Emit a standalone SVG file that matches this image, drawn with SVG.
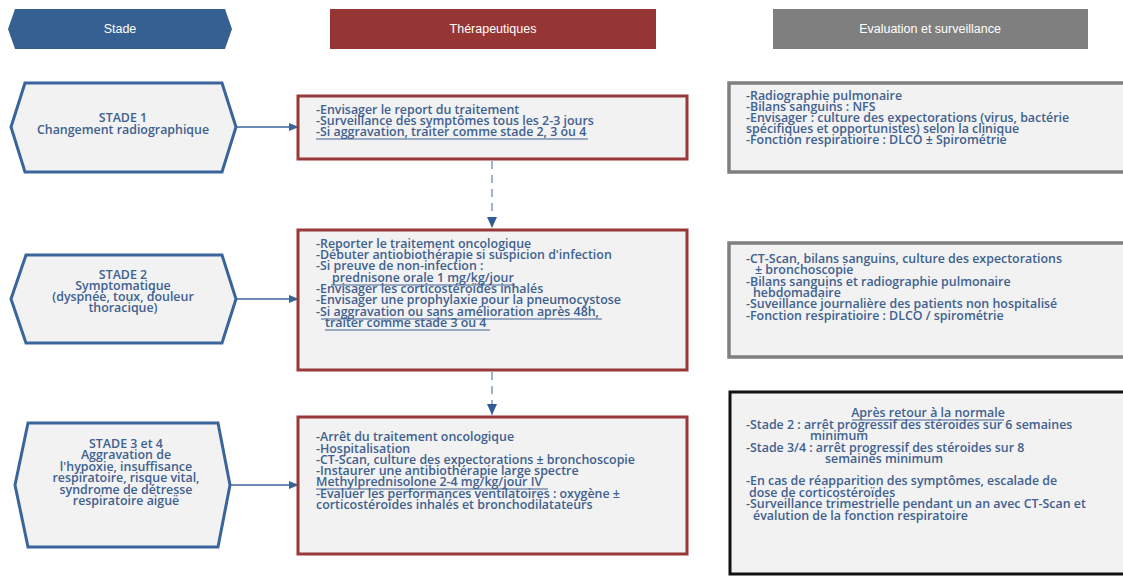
<svg xmlns="http://www.w3.org/2000/svg" width="1123" height="577" viewBox="0 0 1123 577">
<defs>
<style>
.t{font-family:"Open Sans","Liberation Sans",Arial,sans-serif;font-size:12.4px;font-weight:600;fill:#40618f;}
.s{font-size:12.4px;}
.c{text-anchor:middle;}
.h{font-family:"Liberation Sans",Arial,sans-serif;font-size:12.5px;fill:#ffffff;text-anchor:middle;}
.hex{fill:#f2f2f2;stroke:#3a659b;stroke-width:3;stroke-linejoin:miter;}
.ther{fill:#f2f2f2;stroke:#983838;stroke-width:3;}
.evg{fill:#f2f2f2;stroke:#7f7f7f;stroke-width:3.5;}
.evb{fill:#f2f2f2;stroke:#111111;stroke-width:3;}
.u{stroke:#40618f;stroke-width:1.2;}
.arr{stroke:#3a659b;stroke-width:1.5;fill:none;}
.dash{stroke:#9fb3d1;stroke-width:2;stroke-dasharray:8,6;fill:none;}
</style>
<marker id="ah" markerWidth="10" markerHeight="10" refX="9" refY="5" orient="auto" markerUnits="userSpaceOnUse">
<path d="M0,1 L10,5 L0,9 Z" fill="#3a659b"/>
</marker>
<marker id="ahd" markerWidth="12" markerHeight="12" refX="11" refY="6" orient="auto" markerUnits="userSpaceOnUse">
<path d="M0,1 L11,6 L0,11 Z" fill="#2f5c96"/>
</marker>
</defs>
<rect width="1123" height="577" fill="#ffffff"/>

<g id="header-stade">
<polygon points="8,29 15,9 225,9 232,29 225,49 15,49" fill="#376092"/>
<text class="h" x="120" y="33">Stade</text>
</g>
<g id="header-therapeutiques">
<rect x="330" y="9" width="326" height="40" fill="#963634"/>
<text class="h" x="493" y="33">Thérapeutiques</text>
</g>
<g id="header-evaluation">
<rect x="773" y="9" width="315" height="40" fill="#7f7f7f"/>
<text class="h" x="930" y="33">Evaluation et surveillance</text>
</g>

<g id="connectors">
<line class="arr" x1="236" y1="127" x2="298" y2="127" marker-end="url(#ah)"/>
<line class="arr" x1="236" y1="299" x2="298" y2="299" marker-end="url(#ah)"/>
<line class="arr" x1="230" y1="485" x2="298" y2="485" marker-end="url(#ah)"/>
<line class="dash" x1="492" y1="161" x2="492" y2="228" marker-end="url(#ahd)"/>
<line class="dash" x1="492" y1="372" x2="492" y2="415" marker-end="url(#ahd)"/>
</g>

<g id="stade1">
<polygon class="hex" points="11,127 25,83 222,83 236,127 222,172 25,172"/>
<text class="t s c"><tspan x="123" y="122">STADE 1</tspan><tspan x="123" y="134">Changement radiographique</tspan></text>
</g>

<g id="stade2">
<polygon class="hex" points="11,299 26,255 222,255 236,299 222,343 26,343"/>
<text class="t s c"><tspan x="123" y="279">STADE 2</tspan><tspan x="123" y="290">Symptomatique</tspan><tspan x="123" y="301">(dyspnée, toux, douleur</tspan><tspan x="123" y="312">thoracique)</tspan></text>
</g>

<g id="stade3">
<polygon class="hex" points="15,485 28,423 218,423 230,485 218,547 28,547"/>
<text class="t s c"><tspan x="126" y="448">STADE 3 et 4</tspan><tspan x="126" y="459">Aggravation de</tspan><tspan x="126" y="471">l'hypoxie, insuffisance</tspan><tspan x="126" y="482">respiratoire, risque vital,</tspan><tspan x="126" y="494">syndrome de détresse</tspan><tspan x="126" y="505">respiratoire aiguë</tspan></text>
</g>

<g id="therapeutique1">
<rect class="ther" x="298" y="96" width="389" height="63"/>
<text class="t"><tspan x="316" y="114">-Envisager le report du traitement</tspan><tspan x="316" y="125">-Surveillance des symptômes tous les 2-3 jours</tspan><tspan x="316" y="136">-Si aggravation, traiter comme stade 2, 3 ou 4</tspan></text>
<line class="u" x1="316" y1="139" x2="588" y2="139"/>
</g>

<g id="therapeutique2">
<rect class="ther" x="298" y="230" width="389" height="140"/>
<text class="t"><tspan x="316" y="248">-Reporter le traitement oncologique</tspan><tspan x="316" y="259">-Débuter antiobiothérapie si suspicion d'infection</tspan><tspan x="316" y="270">-Si preuve de non-infection :</tspan><tspan x="332" y="282">prednisone orale 1 mg/kg/jour</tspan><tspan x="316" y="293">-Envisager les corticostéroïdes inhalés</tspan><tspan x="316" y="304">-Envisager une prophylaxie pour la pneumocystose</tspan><tspan x="316" y="316">-Si aggravation ou sans amélioration après 48h,</tspan><tspan x="325" y="327">traiter comme stade 3 ou 4</tspan></text>
<line class="u" x1="331" y1="285" x2="515" y2="285"/>
<line class="u" x1="321" y1="319" x2="602" y2="319"/>
<line class="u" x1="325" y1="330" x2="490" y2="330"/>
</g>

<g id="therapeutique3">
<rect class="ther" x="298" y="417" width="389" height="137"/>
<text class="t"><tspan x="316" y="441">-Arrêt du traitement oncologique</tspan><tspan x="316" y="453">-Hospitalisation</tspan><tspan x="316" y="464">-CT-Scan, culture des expectorations ± bronchoscopie</tspan><tspan x="316" y="475">-Instaurer une antibiothérapie large spectre</tspan><tspan x="316" y="486">Methylprednisolone 2-4 mg/kg/jour IV</tspan><tspan x="316" y="498">-Evaluer les performances ventilatoires : oxygène ±</tspan><tspan x="316" y="509">corticostéroïdes inhalés et bronchodilatateurs</tspan></text>
<line class="u" x1="316" y1="489" x2="548" y2="489"/>
</g>

<g id="evaluation1">
<rect class="evg" x="729" y="83" width="400" height="89"/>
<text class="t"><tspan x="746" y="100">-Radiographie pulmonaire</tspan><tspan x="746" y="111">-Bilans sanguins : NFS</tspan><tspan x="746" y="122">-Envisager : culture des expectorations (virus, bactérie</tspan><tspan x="746" y="133">spécifiques et opportunistes) selon la clinique</tspan><tspan x="746" y="144">-Fonction respiratioire : DLCO ± Spirométrie</tspan></text>
</g>

<g id="evaluation2">
<rect class="evg" x="729" y="243" width="400" height="114"/>
<text class="t"><tspan x="746" y="263">-CT-Scan, bilans sanguins, culture des expectorations</tspan><tspan x="755" y="274">± bronchoscopie</tspan><tspan x="746" y="286">-Bilans sanguins et radiographie pulmonaire</tspan><tspan x="753" y="297">hebdomadaire</tspan><tspan x="746" y="308">-Suveillance journalière des patients non hospitalisé</tspan><tspan x="746" y="320">-Fonction respiratioire : DLCO / spirométrie</tspan></text>
</g>

<g id="evaluation3">
<rect class="evb" x="730" y="392" width="400" height="182"/>
<text class="t c" x="928" y="417">Après retour à la normale</text>
<line class="u" x1="852" y1="420" x2="1004" y2="420"/>
<text class="t"><tspan x="746" y="429">-Stade 2 : arrêt progressif des stéroides sur 6 semaines</tspan><tspan x="810" y="440">minimum</tspan><tspan x="746" y="452">-Stade 3/4 :  arrêt progressif des stéroides sur 8</tspan><tspan x="825" y="463">semaines minimum</tspan></text>
<text class="t"><tspan x="746" y="485">-En cas de réapparition des symptômes, escalade de</tspan><tspan x="749" y="497">dose de corticostéroïdes</tspan><tspan x="746" y="508">-Surveillance trimestrielle pendant un an avec CT-Scan et</tspan><tspan x="753" y="520">évalution de la fonction respiratoire</tspan></text>
</g>
</svg>
